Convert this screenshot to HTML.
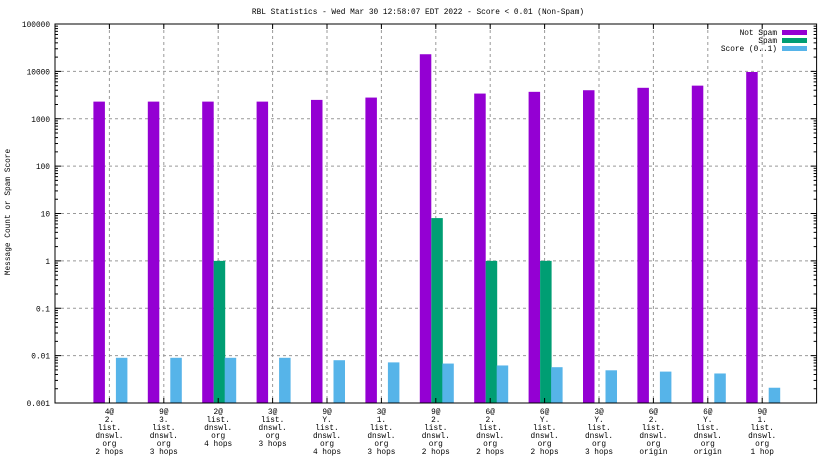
<!DOCTYPE html>
<html><head><meta charset="utf-8"><style>
body{margin:0;background:#fff}
svg{display:block;font-family:"Liberation Mono",monospace;font-size:7.8px}
</style></head><body>
<svg id="chart" width="832" height="468" viewBox="0 0 832 468">
<text x="418" y="14" text-anchor="middle">RBL Statistics - Wed Mar 30 12:58:07 EDT 2022 - Score &lt; 0.01 (Non-Spam)</text>
<text transform="translate(10,212) rotate(-90)" text-anchor="middle">Message Count or Spam Score</text>
<g id="grid"></g><g id="bars"></g><g id="axes"></g>
<g>
<text x="777" y="35" text-anchor="end">Not Spam</text><rect x="782" y="30" width="25" height="5" fill="#9400d3"/>
<text x="777" y="43" text-anchor="end">Spam</text><rect x="782" y="38" width="25" height="5" fill="#009e73"/>
<text x="777" y="51" text-anchor="end">Score (0..1)</text><rect x="782" y="46" width="25" height="5" fill="#56b4e9"/>
</g>
</svg>
<script>
const categories=[["4@","2.","list.","dnswl.","org","2 hops"],["9@","3.","list.","dnswl.","org","3 hops"],["2@","list.","dnswl.","org","4 hops"],["3@","list.","dnswl.","org","3 hops"],["9@","Y.","list.","dnswl.","org","4 hops"],["3@","1.","list.","dnswl.","org","3 hops"],["9@","2.","list.","dnswl.","org","2 hops"],["6@","2.","list.","dnswl.","org","2 hops"],["6@","Y.","list.","dnswl.","org","2 hops"],["3@","Y.","list.","dnswl.","org","3 hops"],["6@","2.","list.","dnswl.","org","origin"],["6@","Y.","list.","dnswl.","org","origin"],["9@","1.","list.","dnswl.","org","1 hop"]];
const notSpam=[2300,2300,2300,2300,2500,2800,23000,3400,3700,4000,4500,5000,9700];
const spam=[0,0,1,0,0,0,8,1,1,0,0,0,0];
const score=[0.009,0.009,0.009,0.009,0.008,0.0072,0.0068,0.0062,0.0057,0.0049,0.0046,0.0042,0.0021];
const yTicks=["0.001","0.01","0.1","1","10","100","1000","10000","100000"];
const NS="http://www.w3.org/2000/svg";
const L=55,R=816.6,T=24,B=403,step=(R-L)/14;
const xs=i=>L+(i+1)*step;
const ys=v=>B-(Math.log10(v)+3)/8*(B-T);
function mk(tag,at,parent){const e=document.createElementNS(NS,tag);for(const k in at)e.setAttribute(k,at[k]);document.getElementById(parent).appendChild(e);return e;}
yTicks.forEach((t,i)=>{const y=ys(parseFloat(t));
 if(i>0&&i<8){const g=mk('line',{x1:L,x2:R,y1:y,y2:y,stroke:'#999','stroke-dasharray':'3,3','stroke-width':1},'grid');
 
 }
 const tx=mk('text',{x:50,y:y+3,'text-anchor':'end'},'axes');tx.textContent=t;
 
 
 mk('line',{x1:L,x2:L+6,y1:y,y2:y,stroke:'#000'},'axes');mk('line',{x1:R,x2:R-6,y1:y,y2:y,stroke:'#000'},'axes');
 if(i<8)for(let m=2;m<10;m++){const v=parseFloat(t)*m,yy=ys(v);mk('line',{x1:L,x2:L+3,y1:yy,y2:yy,stroke:'#000'},'axes');mk('line',{x1:R,x2:R-3,y1:yy,y2:yy,stroke:'#000'},'axes');}
});
categories.forEach((c,i)=>{const x=xs(i);
 const g=mk('line',{x1:x,x2:x,y1:T,y2:B,stroke:'#999','stroke-dasharray':'3,3'},'grid');
 
 
 mk('line',{x1:x,x2:x,y1:B,y2:B-5,stroke:'#000'},'axes');mk('line',{x1:x,x2:x,y1:T,y2:T+5,stroke:'#000'},'axes');
 c.forEach((ln,j)=>{const t=mk('text',{x:x,y:414+j*8,'text-anchor':'middle'},'axes');t.textContent=ln;
 
 });
 const series=[[notSpam,'#9400d3',-16,'bar-not-spam'],[spam,'#009e73',-4.5,'bar-spam'],[score,'#56b4e9',6.5,'bar-score']];
 series.forEach(([arr,col,off,nm])=>{const v=arr[i];if(!(v>0))return;const y=ys(v);
 const b=mk('rect',{x:x+off,y:y,width:11.5,height:B-y,fill:col},'bars');
 
 });
});
const fr=mk('rect',{x:L,y:T,width:R-L,height:B-T,fill:'none',stroke:'#000','stroke-width':1},'axes');


</script>
</body></html>
